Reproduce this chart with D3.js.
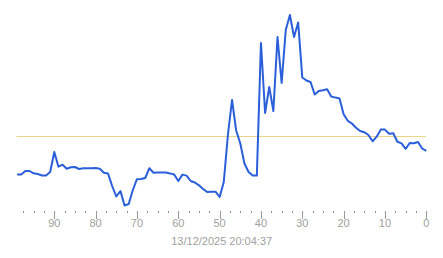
<!DOCTYPE html>
<html>
<head>
<meta charset="utf-8">
<script src="https://cdn.jsdelivr.net/npm/d3@7"></script>
<style>
  body { margin: 0; background: #fff; }
  svg { display: block; }
  .tick-label { font-family: "Liberation Sans", Arial, sans-serif; font-size: 11px; fill: #a0a0a0; }
</style>
</head>
<body>
<div id="chart"></div>
<script>
  // seconds ago, newest on the right (0)
  let secondsAgo = d3.range(99, -1, -1);
  // values, oldest (99) first
  let values = [
    35.5, 35.5, 39, 39, 36.7, 36, 34.5, 34.5, 38, 58,
    43.3, 45.3, 41.3, 42.7, 43, 41, 41.7, 41.7, 41.7, 42,
    41.3, 37.3, 36.5, 24, 13.5, 19, 4.5, 6, 20, 30.8,
    31, 32, 41.8, 37.3, 37.4, 37.5, 37.4, 36.6, 35.5, 29,
    35.4, 34.4, 29, 27.5, 24.7, 21, 18, 18.3, 18.3, 13,
    28, 75, 110, 79.5, 66.5, 46.5, 38, 34.5, 34.4, 167,
    97, 123, 99, 173, 127, 180, 195, 173, 187.5, 132.5,
    129.5, 128, 115.5, 119, 119.8, 120.8, 113.5, 112.4, 111.5, 95.7,
    89.2, 86.5, 82.3, 79, 77.8, 75, 68.7, 73.3, 80.5, 80.4,
    76.3, 76.7, 68.2, 66.6, 61.2, 67, 66.7, 68, 61.5, 59.2
  ];
  let majorTicks = [90, 80, 70, 60, 50, 40, 30, 20, 10, 0];
  let minorTicks = d3.range(97.5, 0, -2.5).filter(d => d % 10 != 0);
  let threshold = 74;
  let stamp = "13/12/2025 20:04:37";

  const width = 443, height = 258;

  let data = secondsAgo.map((s, i) => ({ s: s, v: values[i] }));

  const svg = d3.select("#chart")
    .append("svg")
    .attr("width", width)
    .attr("height", height);

  let xScale = d3.scaleLinear()
    .domain([99, 0])
    .range([17.1, 426.3]);

  let yScale = d3.scaleLinear()
    .domain([0, 200])
    .range([210, 10]);

  // threshold line
  svg.append("line")
    .attr("x1", xScale(99) - 0.5)
    .attr("x2", xScale(0) - 0.5)
    .attr("y1", Math.round(yScale(threshold)) + 0.5)
    .attr("y2", Math.round(yScale(threshold)) + 0.5)
    .attr("stroke", "#ecd38a")
    .attr("stroke-width", 1);

  // axis: short lines at major ticks, dots at minor ones
  let axis = svg.append("g");

  axis.selectAll("line.major")
    .data(majorTicks)
    .enter().append("line")
    .attr("class", "major")
    .attr("x1", d => Math.round(xScale(d)) + 0.5)
    .attr("x2", d => Math.round(xScale(d)) + 0.5)
    .attr("y1", 211)
    .attr("y2", 219)
    .attr("stroke", "#999")
    .attr("stroke-width", 1);

  axis.selectAll("rect.minor")
    .data(minorTicks)
    .enter().append("rect")
    .attr("class", "minor")
    .attr("x", d => Math.round(xScale(d)))
    .attr("y", 211)
    .attr("width", 1)
    .attr("height", 2)
    .attr("fill", "#888");

  axis.selectAll("text")
    .data(majorTicks)
    .enter().append("text")
    .attr("class", "tick-label")
    .attr("x", d => xScale(d))
    .attr("y", 227)
    .attr("text-anchor", "middle")
    .text(d => d);

  svg.append("text")
    .attr("class", "tick-label")
    .attr("x", (xScale(99) + xScale(0)) / 2)
    .attr("y", 245)
    .attr("text-anchor", "middle")
    .text(stamp);

  // the line
  let line = d3.line()
    .x(d => xScale(d.s))
    .y(d => yScale(d.v));

  svg.append("path")
    .datum(data)
    .attr("d", line)
    .attr("fill", "none")
    .attr("stroke", "#2b5fd9")
    .attr("stroke-width", 2)
    .attr("stroke-linejoin", "round");
</script>
</body>
</html>
